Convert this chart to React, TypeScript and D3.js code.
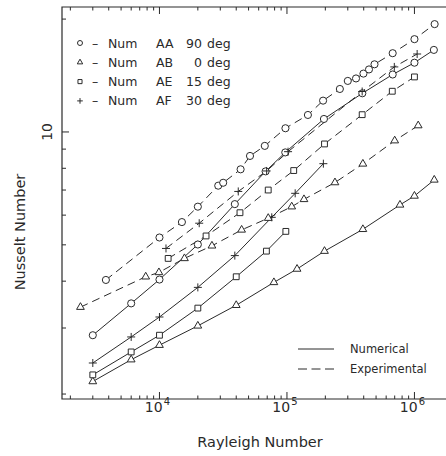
import React from "react";
import * as d3 from "d3";

// numerical runs (solid lines)
const raNumAA = [3e3, 6e3, 1e4, 2e4, 3.9e4, 6.8e4, 9.7e4, 1.95e5, 3.9e5, 6.75e5, 1e6, 1.42e6];
const nuNumAA = [2.87, 3.49, 4.04, 5.01, 6.42, 7.85, 8.82, 10.83, 12.68, 14.23, 15.3, 16.55];
const raNumAB = [3e3, 6e3, 1e4, 2e4, 4e4, 7.9e4, 1.2e5, 1.97e5, 3.94e5, 7.7e5, 1e6, 1.43e6];
const nuNumAB = [2.16, 2.47, 2.7, 3.04, 3.45, 3.97, 4.31, 4.81, 5.5, 6.39, 6.75, 7.45];
const raNumAE = [3e3, 6e3, 1e4, 2e4, 4e4, 6.9e4, 9.8e4];
const nuNumAE = [2.25, 2.59, 2.87, 3.39, 4.11, 4.81, 5.43];
const raNumAF = [3e3, 6e3, 1e4, 2e4, 3.9e4, 7.6e4, 1.16e5, 1.93e5];
const nuNumAF = [2.42, 2.84, 3.21, 3.85, 4.68, 5.92, 6.86, 8.23];

// experimental (dashed lines)
const raExpAA = [3.8e3, 1e4, 1.5e4, 2e4, 2.89e4, 3.16e4, 4.33e4, 5.13e4, 6.7e4, 9.73e4, 1.46e5, 1.92e5, 2.6e5, 3.0e5, 3.48e5, 3.98e5, 4.4e5, 4.86e5, 6.75e5, 1e6, 1.44e6];
const nuExpAA = [4.03, 5.23, 5.75, 6.32, 7.19, 7.32, 7.95, 8.63, 9.18, 10.23, 11.1, 12.12, 13.02, 13.68, 13.89, 14.31, 14.68, 15.15, 16.22, 17.68, 19.39];
const raExpAB = [2.4e3, 7.8e3, 9.9e3, 1.57e4, 2.58e4, 4.41e4, 7.13e4, 1.09e5, 1.36e5, 2.38e5, 3.94e5, 7.0e5, 1.07e6];
const nuExpAB = [3.41, 4.11, 4.22, 4.6, 4.97, 5.48, 5.89, 6.32, 6.61, 7.33, 8.22, 9.48, 10.4];
const raExpAE = [1.17e4, 2.32e4, 4.28e4, 7.13e4, 1.13e5, 1.97e5, 3.89e5, 6.7e5, 1e6];
const nuExpAE = [4.6, 5.28, 6.09, 7.0, 7.89, 9.29, 11.12, 12.84, 14.02];
const raExpAF = [1.125e4, 2.05e4, 4.15e4, 6.93e4, 1.02e5, 3.89e5, 6.95e5, 1.05e6];
const nuExpAF = [4.89, 5.71, 6.94, 7.87, 8.86, 12.82, 14.91, 16.14];

const legendMarks = ["circle", "triangle", "square", "plus"];
const legendCases = ["AA", "AB", "AE", "AF"];
const legendAngles = ["90", "0", "15", "30"];
const styleNames = ["Numerical", "Experimental"];

const W = 446;
const H = 456;
const left = 62, right = 455, top = 7, bottom = 399;
const ink = "#2a2a2a";
const font = "'DejaVu Sans', sans-serif";
const dash = "8,5";

const x = d3.scaleLog().domain([1.72e3, 2.08e6]).range([left, right]);
const y = d3.scaleLog().domain([1.94, 21.54]).range([bottom, top]);

const series = [
  { ra: raNumAA, nu: nuNumAA, mark: "circle", dashed: false },
  { ra: raNumAB, nu: nuNumAB, mark: "triangle", dashed: false },
  { ra: raNumAE, nu: nuNumAE, mark: "square", dashed: false },
  { ra: raNumAF, nu: nuNumAF, mark: "plus", dashed: false },
  { ra: raExpAA, nu: nuExpAA, mark: "circle", dashed: true },
  { ra: raExpAB, nu: nuExpAB, mark: "triangle", dashed: true },
  { ra: raExpAE, nu: nuExpAE, mark: "square", dashed: true },
  { ra: raExpAF, nu: nuExpAF, mark: "plus", dashed: true },
];

function Marker({ type, cx, cy, s = 1 }) {
  if (type === "plus") {
    const r = 4 * s;
    return <path d={`M${cx - r},${cy}H${cx + r}M${cx},${cy - r}V${cy + r}`} stroke={ink} strokeWidth={1} fill="none" />;
  }
  const t = type === "circle" ? d3.symbolCircle : type === "triangle" ? d3.symbolTriangle : d3.symbolSquare;
  const size = type === "circle" ? 40 : type === "triangle" ? 26 : 34;
  const d = d3.symbol().type(t).size(size * s * s)();
  return <path d={d} transform={`translate(${cx},${cy})`} fill="white" stroke={ink} strokeWidth={1} />;
}

export default function App() {
  const line = d3.line<number>();
  const xTicks = x.ticks();
  const yTicks = y.ticks();
  const isMajor = (v) => Math.abs(Math.log10(v) - Math.round(Math.log10(v))) < 1e-6;

  return (
    <svg width={W} height={H} style={{ position: "absolute", left: 0, top: 0, background: "white" }}>
      {/* frame */}
      <path d={`M${W + 20},${top}H${left}V${bottom}H${W + 20}`} fill="none" stroke={ink} strokeWidth={1.2} />

      {/* x ticks, bottom and top, pointing in */}
      {xTicks.map((v, i) => {
        const px = x(v);
        const len = isMajor(v) ? 7 : 3.5;
        return (
          <g key={"xt" + i}>
            <line x1={px} x2={px} y1={bottom} y2={bottom - len} stroke={ink} />
            <line x1={px} x2={px} y1={top} y2={top + len} stroke={ink} />
          </g>
        );
      })}
      {xTicks.filter(isMajor).map((v, i) => (
        <text key={"xl" + i} x={x(v) - 2} y={412} fontFamily={font} fontSize={14} fill={ink} textAnchor="middle">
          10
          <tspan dx={1} dy={-7} fontSize={10}>{Math.round(Math.log10(v))}</tspan>
        </text>
      ))}

      {/* y ticks */}
      {yTicks.map((v, i) => {
        const py = y(v);
        const len = isMajor(v) ? 7 : 4;
        return <line key={"yt" + i} x1={left} x2={left + len} y1={py} y2={py} stroke={ink} />;
      })}
      {yTicks.filter(isMajor).map((v, i) => (
        <text key={"yl" + i} transform={`translate(52,${y(v)}) rotate(-90)`} fontFamily={font} fontSize={14} fill={ink} textAnchor="middle">
          {v}
        </text>
      ))}

      {/* axis titles */}
      <text x={260} y={447} fontFamily={font} fontSize={14.5} fill={ink} textAnchor="middle">Rayleigh Number</text>
      <text transform={`translate(25,232) rotate(-90)`} fontFamily={font} fontSize={14.5} fill={ink} textAnchor="middle">Nusselt Number</text>

      {/* data */}
      {series.map((s, i) => (
        <path key={"l" + i} d={line(s.ra.map((r, j) => [x(r), y(s.nu[j])]))} fill="none" stroke={ink} strokeWidth={1} strokeDasharray={s.dashed ? dash : undefined} />
      ))}
      {series.map((s, i) => (
        <g key={"m" + i}>
          {s.ra.map((r, j) => <Marker key={j} type={s.mark} cx={x(r)} cy={y(s.nu[j])} />)}
        </g>
      ))}

      {/* legend: cases */}
      {legendCases.map((c, i) => {
        const ry = 43 + i * 19.3;
        return (
          <g key={"lg" + i} fontFamily={font} fontSize={12.5} fill={ink}>
            <Marker type={legendMarks[i]} cx={80} cy={ry} s={0.7} />
            <text x={92} y={ry + 4.5}>–</text>
            <text x={108} y={ry + 4.5}>Num</text>
            <text x={156} y={ry + 4.5}>{c}</text>
            <text x={202} y={ry + 4.5} textAnchor="end">{legendAngles[i]}</text>
            <text x={207} y={ry + 4.5}>deg</text>
          </g>
        );
      })}

      {/* legend: line styles */}
      {styleNames.map((n, i) => {
        const ry = 349 + i * 20;
        return (
          <g key={"ls" + i}>
            <line x1={298} x2={334} y1={ry} y2={ry} stroke={ink} strokeDasharray={i === 1 ? "9,4.5" : undefined} />
            <text x={350} y={ry + 4} fontFamily={font} fontSize={11.5} fill={ink}>{n}</text>
          </g>
        );
      })}
    </svg>
  );
}
